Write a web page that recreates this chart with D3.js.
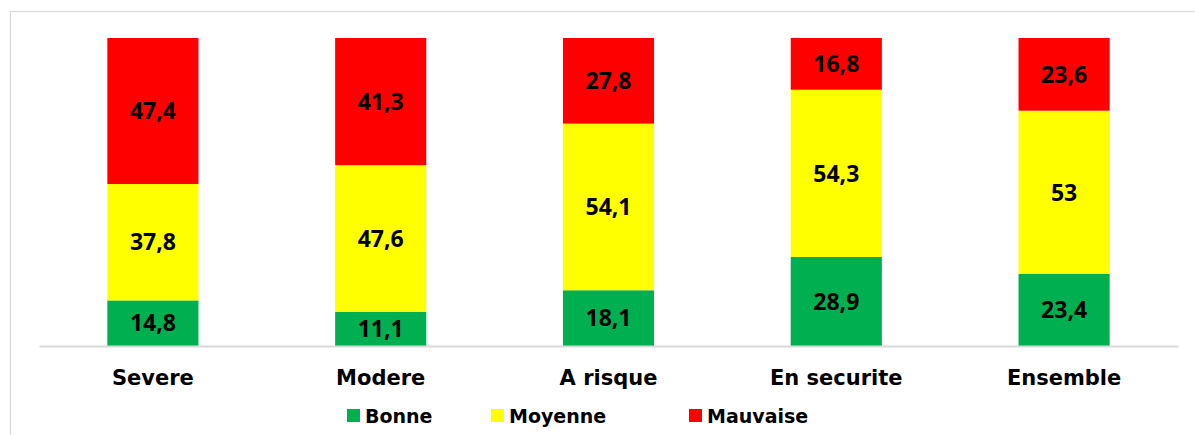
<!DOCTYPE html>
<html>
<head>
<meta charset="utf-8">
<script src="https://cdn.jsdelivr.net/npm/d3@7"></script>
<style>
  body { margin: 0; background: #fff; }
  svg { display: block; }
</style>
</head>
<body>
<div id="chart"></div>
<script>
// chart data
var categories = ["Severe", "Modere", "A risque", "En securite", "Ensemble"];
var seriesNames = ["Bonne", "Moyenne", "Mauvaise"];
var bonne = [14.8, 11.1, 18.1, 28.9, 23.4];
var moyenne = [37.8, 47.6, 54.1, 54.3, 53];
var mauvaise = [47.4, 41.3, 27.8, 16.8, 23.6];
var colors = ["#00B050", "#FFFF00", "#FF0000"];

function init(){
    var w = 1195;
    var h = 435;

    var svg = d3.select("#chart")
                .append("svg")
                .attr("width", w)
                .attr("height", h);

    // chart area border
    svg.append("rect")
        .attr("x", 10.5)
        .attr("y", 11.5)
        .attr("width", w)
        .attr("height", h)
        .attr("fill", "none")
        .attr("stroke", "#D9D9D9")
        .attr("stroke-width", 1.2);

    var rows = categories.map(function(c, i){
        return {cat: c, Bonne: bonne[i], Moyenne: moyenne[i], Mauvaise: mauvaise[i]};
    });

    var stack = d3.stack().keys(seriesNames);
    var layers = stack(rows);

    var xScale = d3.scaleBand()
                .domain(categories)
                .range([39, 1178])
                .paddingInner(0.6)
                .paddingOuter(0.3);

    var yScale = d3.scaleLinear()
                .domain([0, 100])
                .range([346, 38]);

    var groups = svg.selectAll("g.layer")
        .data(layers)
        .enter()
        .append("g")
        .attr("class", "layer")
        .attr("fill", function(d, i){ return colors[i]; });

    groups.selectAll("rect")
        .data(function(d){ return d; })
        .enter()
        .append("rect")
        .attr("x", function(d){ return xScale(d.data.cat); })
        .attr("y", function(d){ return yScale(d[1]); })
        .attr("width", xScale.bandwidth())
        .attr("height", function(d){ return yScale(d[0]) - yScale(d[1]); });

    // value labels
    groups.selectAll("text")
        .data(function(d){ return d.map(function(p){ p.key = d.key; return p; }); })
        .enter()
        .append("text")
        .text(function(d){ return String(d.data[d.key]).replace(".", ","); })
        .attr("x", function(d){ return xScale(d.data.cat) + xScale.bandwidth()/2; })
        .attr("y", function(d){ return (yScale(d[0]) + yScale(d[1]))/2; })
        .attr("dy", "0.36em")
        .attr("text-anchor", "middle")
        .attr("fill", "#000")
        .attr("font-family", "'Open Sans', sans-serif")
        .attr("font-weight", "bold")
        .attr("font-size", "23px");

    // x axis
    var xAxis = d3.axisBottom(xScale).tickSize(0).tickPadding(24);
    var gx = svg.append("g")
        .attr("transform", "translate(0," + yScale(0) + ")")
        .call(xAxis);
    gx.select(".domain").attr("stroke", "#D9D9D9").attr("stroke-width", 2);
    gx.selectAll("text")
        .attr("fill", "#000")
        .attr("font-family", "'DejaVu Sans', sans-serif")
        .attr("font-weight", "bold")
        .attr("font-size", "21px");

    // legend
    var legendX = [347, 491, 689];
    var legend = svg.selectAll("g.legend")
        .data(seriesNames)
        .enter()
        .append("g")
        .attr("class", "legend")
        .attr("transform", function(d, i){ return "translate(" + legendX[i] + ",409)"; });

    legend.append("rect")
        .attr("width", 13)
        .attr("height", 13)
        .attr("fill", function(d, i){ return colors[i]; });

    legend.append("text")
        .text(function(d){ return d; })
        .attr("x", 18)
        .attr("y", 14)
        .attr("fill", "#000")
        .attr("font-family", "'DejaVu Sans', sans-serif")
        .attr("font-weight", "bold")
        .attr("font-size", "19px");
}
window.onload = init;
</script>
</body>
</html>
